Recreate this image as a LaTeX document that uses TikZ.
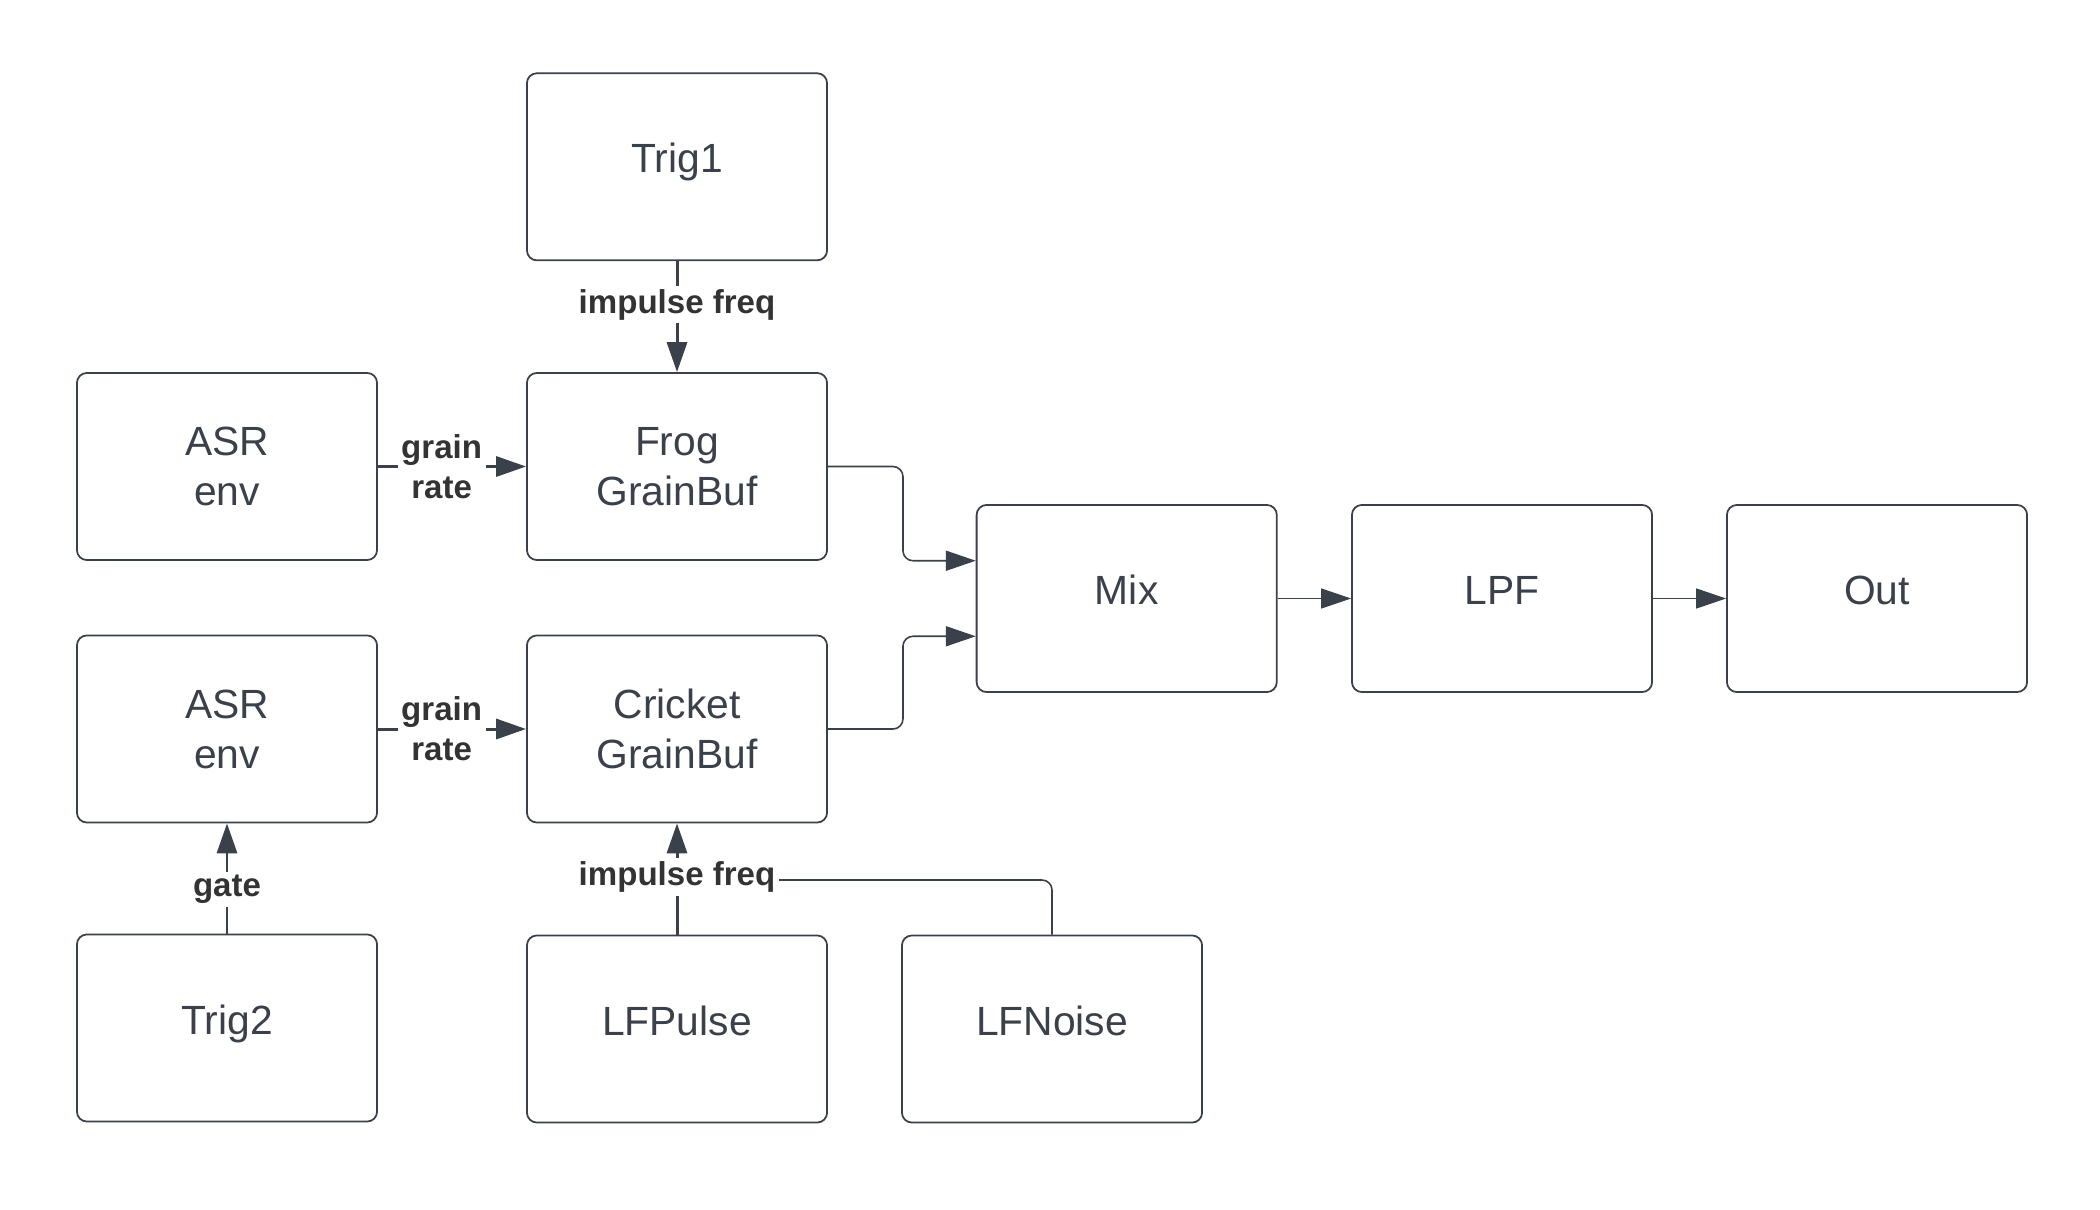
\documentclass[tikz,border=0pt]{standalone}
\usepackage{fontspec}
\setmainfont{Liberation Sans}
\usetikzlibrary{arrows.meta,calc}
\definecolor{ink}{HTML}{3A414A}
\definecolor{lbl}{HTML}{333333}
\begin{document}
\begin{tikzpicture}[x=0.01cm,y=-0.01cm,
  box/.style={draw=ink,line width=0.5pt,rounded corners=0.1cm,minimum width=3cm,minimum height=1.87cm,inner sep=0pt,text=ink,font=\fontsize{11.6}{14.2}\selectfont,align=center},
  one/.style={text height=0.28cm,text depth=0.16cm},
  conn/.style={draw=ink,line width=0.85pt,-{Triangle[length=8.5pt,width=5.7pt]}},
  midconn/.style={draw=ink,line width=0.45pt,rounded corners=0.1cm,-{Triangle[length=8.5pt,width=5.7pt]}},
  thinconn/.style={draw=ink,line width=0.3pt,-{Triangle[length=8.5pt,width=5.7pt]}},
  plainline/.style={draw=ink,line width=0.45pt,rounded corners=0.1cm},
  lab/.style={fill=white,inner sep=1pt,text=lbl,font=\fontsize{9.4}{11.3}\selectfont\bfseries,align=center}]
\useasboundingbox (0,0) rectangle (2100,1209);
% boxes
\node[box,one] (trig1) at (677,166.8) {Trig1};
\node[box] (asr1) at (227,466.5) {ASR\\env};
\node[box] (frog) at (677,466.5) {Frog\\GrainBuf};
\node[box,one] (mix) at (1126.7,598.5) {Mix};
\node[box,one] (lpf) at (1502,598.5) {LPF};
\node[box,one] (out) at (1877,598.5) {Out};
\node[box] (asr2) at (227,729) {ASR\\env};
\node[box] (cricket) at (677,729) {Cricket\\GrainBuf};
\node[box,one] (trig2) at (227,1028) {Trig2};
\node[box,one] (lfpulse) at (677,1029) {LFPulse};
\node[box,one] (lfnoise) at (1052,1029) {LFNoise};
% helper coordinates
\coordinate (mixin1) at ($(mix.north west)!0.3!(mix.south west)$);
\coordinate (mixin2) at ($(mix.north west)!0.7!(mix.south west)$);
\coordinate (lfj) at (677,880);
% connectors
\draw[conn] (trig1.south) -- node[lab,pos=0.39] (l1) {impulse freq} (frog.north);
\draw[conn] (asr1.east) -- node[lab,pos=0.43] (l2) {grain\\rate} (frog.west);
\draw[conn] (asr2.east) -- node[lab,pos=0.43] (l3) {grain\\rate} (cricket.west);
\draw[midconn] (frog.east) -- ++(75,0) |- (mixin1);
\draw[midconn] (cricket.east) -- ++(75,0) |- (mixin2);
\draw[thinconn] (mix.east) -- (lpf.west);
\draw[thinconn] (lpf.east) -- (out.west);
\draw[plainline] (lfnoise.north) |- (lfj);
\draw[conn] (lfpulse.north) -- node[lab,pos=0.52] (l4) {impulse freq} (cricket.south);
\draw[conn] (trig2.north) -- node[lab,pos=0.40] (l5) {gate} (asr2.south);
\end{tikzpicture}
\end{document}
